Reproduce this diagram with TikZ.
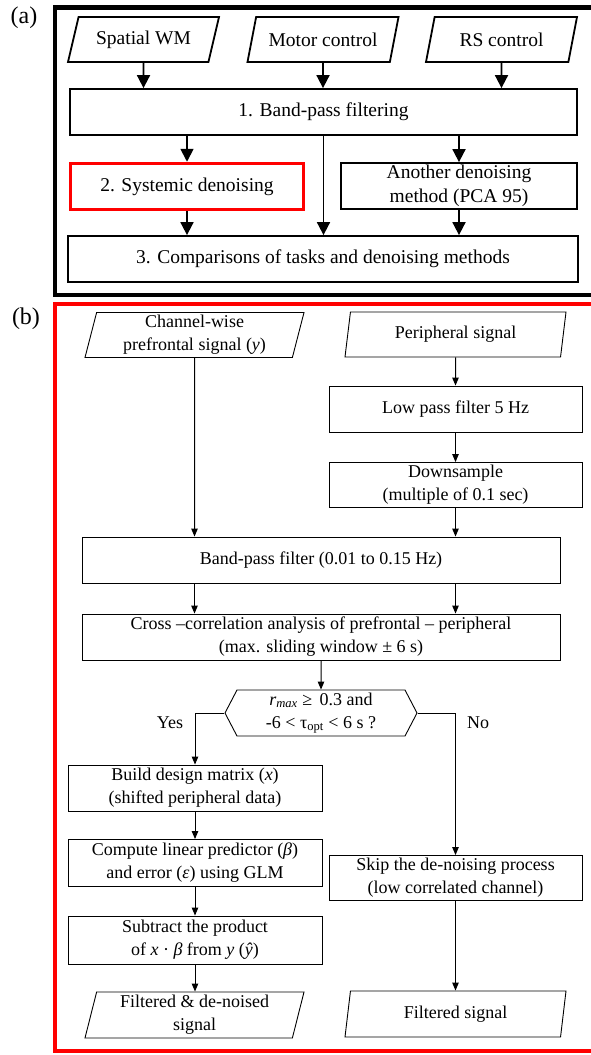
\documentclass[tikz,border=0pt]{standalone}
\usepackage{fontspec}
\setmainfont{Liberation Serif}
\usetikzlibrary{arrows.meta,shapes.geometric,shapes.symbols,calc}

\begin{document}
\begin{tikzpicture}[x=1pt, y=-1pt,
    boxa/.style={draw, line width=1.8pt, minimum height=46pt, inner sep=2pt, align=center, font=\fontsize{19.5}{24}\selectfont},
    ioa/.style={boxa, trapezium, trapezium left angle=64, trapezium right angle=116, trapezium stretches body},
    arra/.style={line width=1.8pt, -{Triangle[width=13pt,length=13pt]}},
    boxb/.style={draw, line width=0.9pt, minimum height=46pt, inner sep=2pt, align=center, font=\fontsize{18}{23}\selectfont},
    iob/.style={boxb, trapezium, trapezium left angle=75, trapezium right angle=105, trapezium stretches body},
    arrb/.style={line width=1pt, -{Triangle[width=6.5pt,length=8pt]}},
    lbl/.style={font=\fontsize{18}{22}\selectfont}]
    \useasboundingbox (0,0) rectangle (591,1055);

    % Part (a)
    \node[font=\fontsize{24}{28}\selectfont] (tagA) at (24,18) {(a)};
    \draw[line width=4.5pt] (597,7.5) -- (55,7.5) -- (55,295) -- (597,295);
    \foreach \n/\x/\t in {swm/143.5/Spatial WM, motor/323/Motor control, rs/501.5/RS control} {
        \node[ioa, minimum width=151pt, minimum height=45pt] (\n) at (\x,39.5) {\t};
    }
    \node[boxa, minimum width=507pt] (bpfA) at (323.5,112) {1. Band-pass filtering};
    \node[boxa, draw=red, line width=3.5pt, minimum width=233pt] (sysd) at (187,186.5) {2. Systemic denoising};
    \node[boxa, minimum width=236pt] (pca) at (459,186) {Another denoising\\method (PCA 95)};
    \node[boxa, minimum width=510pt] (comp) at (323,259) {3. Comparisons of tasks and denoising methods};

    \foreach \n in {swm,motor,rs} {
        \draw[arra] (\n) -- (\n |- bpfA.north);
    }
    \draw[arra] (bpfA.south -| sysd) -- (sysd);
    \draw[arra] (bpfA.south -| pca) -- (pca);
    \draw[arra] (bpfA) -- (bpfA |- comp.north);
    \draw[arra] (sysd) -- (sysd |- comp.north);
    \draw[arra] (pca) -- (pca |- comp.north);

    % Part (b)
    \node[font=\fontsize{24}{28}\selectfont] (tagB) at (26,319) {(b)};
    \draw[red, line width=4.5pt] (597,304) -- (55,304) -- (55,1051) -- (597,1051);
    \node[iob, minimum width=219pt, minimum height=45pt] (chan) at (194.5,335) {Channel-wise\\prefrontal signal (\textit{y})};
    \node[iob, minimum width=221pt, minimum height=45pt] (peri) at (455.5,334.5) {Peripheral signal};
    \node[boxb, minimum width=253pt] (lpf) at (455.5,409) {Low pass filter 5 Hz};
    \node[boxb, minimum width=253pt, minimum height=45pt] (down) at (455.5,485) {Downsample\\(multiple of 0.1 sec)};
    \node[boxb, minimum width=478pt] (bpf) at (321,560) {Band-pass filter (0.01 to 0.15 Hz)};
    \node[boxb, minimum width=478pt] (xcorr) at (321,637) {Cross –correlation analysis of prefrontal – peripheral\\(max. sliding window ± 6 s)};
    \node[boxb, signal, signal to=west and east, signal pointer angle=125, minimum width=192pt] (dec) at (321,713)
        {\textit{r}\textsubscript{\textit{max}} ≥ \,0.3 and\\-6 < τ\textsubscript{opt} < 6 s ?};
    \node[boxb, minimum width=254pt] (build) at (195,788) {Build design matrix (\textit{x})\\(shifted peripheral data)};
    \node[boxb, minimum width=254pt, minimum height=47pt] (glm) at (195,863) {Compute linear predictor (\textit{β})\\and error (\textit{ε}) using GLM};
    \node[boxb, minimum width=254pt, minimum height=48pt] (subtr) at (195,940) {Subtract the product\\of \textit{x} · \textit{β} from \textit{y} (\textit{ŷ})};
    \node[iob, minimum width=219pt] (filt) at (194.5,1015) {Filtered \& de-noised\\signal};
    \node[boxb, minimum width=253pt, minimum height=45pt] (skip) at (455.5,878) {Skip the de-noising process\\(low correlated channel)};
    \node[iob, minimum width=221pt] (fsig) at (455.5,1014) {Filtered signal};
    \node[lbl] (yes) at (170,723) {Yes};
    \node[lbl] (no) at (478,723) {No};

    \draw[arrb] (chan) -- (chan |- bpf.north);
    \draw[arrb] (peri) -- (lpf);
    \draw[arrb] (lpf) -- (down);
    \draw[arrb] (down) -- (down |- bpf.north);
    \draw[arrb] (bpf.south -| chan) -- (xcorr.north -| chan);
    \draw[arrb] (bpf.south -| down) -- (xcorr.north -| down);
    \draw[arrb] (xcorr) -- (dec);
    \draw[arrb] (dec.west) -| (build.north);
    \draw[arrb] (dec.east) -| (skip.north);
    \draw[arrb] (build) -- (glm);
    \draw[arrb] (glm) -- (subtr);
    \draw[arrb] (subtr) -- (subtr |- filt.north);
    \draw[arrb] (skip) -- (fsig);
\end{tikzpicture}
\end{document}
